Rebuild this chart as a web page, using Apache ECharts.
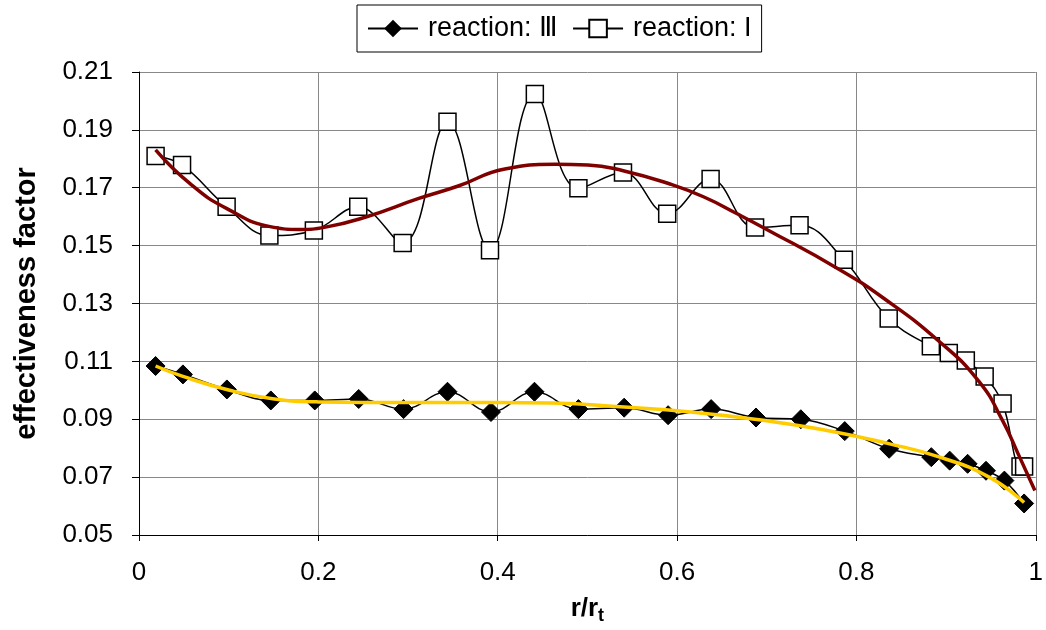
<!DOCTYPE html>
<html>
<head>
<meta charset="utf-8">
<script src="https://cdn.jsdelivr.net/npm/echarts@6/dist/echarts.min.js"></script>
<style>
html,body{margin:0;padding:0;background:#fff;}
#chart{width:1046px;height:630px;}
</style>
</head>
<body>
<div id="chart"></div>
<script>
// reaction I (hollow squares)
const rI = [0.0185,0.048,0.0977,0.1454,0.195,0.2445,0.294,0.344,0.3914,0.4414,0.490,0.5397,0.589,0.6374,0.687,0.7366,0.786,0.836,0.883,0.903,0.922,0.943,0.963,0.983,0.987];
const etaI = [0.181,0.1779,0.1634,0.1535,0.1552,0.1634,0.1509,0.1928,0.1484,0.2024,0.1698,0.1753,0.161,0.173,0.1563,0.157,0.1451,0.1248,0.1152,0.1129,0.1103,0.1048,0.0954,0.0737,0.0737];
// reaction III (filled diamonds)
const rIII = [0.0185,0.049,0.098,0.147,0.196,0.245,0.295,0.344,0.3925,0.441,0.490,0.541,0.590,0.638,0.688,0.738,0.787,0.8365,0.8835,0.904,0.924,0.9445,0.965,0.987];
const etaIII = [0.1084,0.1055,0.1003,0.0965,0.0965,0.097,0.0935,0.0995,0.0925,0.0995,0.0935,0.094,0.0914,0.0935,0.0906,0.09,0.0859,0.0798,0.0769,0.0757,0.0746,0.0722,0.0688,0.0609];
// trend line for reaction I (dark red)
const trendIx = [0.0185,0.0566,0.098,0.149,0.179,0.208,0.253,0.312,0.356,0.408,0.4636,0.5005,0.541,0.593,0.630,0.667,0.700,0.778,0.830,0.8927,0.937,0.963,0.981,0.999];
const trendIy = [0.1831,0.1715,0.1628,0.1564,0.1556,0.1564,0.1599,0.1663,0.1706,0.1765,0.1781,0.1779,0.1758,0.1712,0.1668,0.161,0.1556,0.1423,0.1319,0.1168,0.1029,0.0895,0.0776,0.0654];
// trend line for reaction III (yellow)
const trendIIIx = [0.0185,0.049,0.101,0.149,0.2,0.3,0.4,0.46,0.541,0.615,0.689,0.763,0.837,0.893,0.948,0.987];
const trendIIIy = [0.1084,0.1048,0.1,0.0971,0.096,0.0958,0.0958,0.0956,0.0942,0.0925,0.0899,0.0864,0.0815,0.0769,0.07,0.0612];
// axis ticks
const xTicks = {min:0, max:1, interval:0.2};
const yTicks = {min:0.05, max:0.21, interval:0.02};

const zip = (a,b) => a.map((v,i)=>[v,b[i]]);
const FONT = 'Liberation Sans, Arial, sans-serif';

const chart = echarts.init(document.getElementById('chart'));
chart.setOption({
  animation:false,
  backgroundColor:'#fff',
  textStyle:{fontFamily:FONT},
  legend:{
    data:['reaction: Ⅲ','reaction: I'],
    left:357, top:5,
    padding:[10,10,10,10],
    itemGap:14,
    itemWidth:50, itemHeight:22,
    borderColor:'#000', borderWidth:1, borderRadius:0,
    textStyle:{fontSize:27, color:'#000', fontFamily:FONT, padding:[0,0,0,5]}
  },
  grid:{left:139, right:6, top:72, bottom:90, containLabel:false},
  xAxis:{
    type:'value', min:xTicks.min, max:xTicks.max, interval:xTicks.interval,
    name:'{b|r/r}{s|t}', nameLocation:'middle', nameGap:58,
    nameTextStyle:{rich:{
      b:{fontSize:26, fontWeight:'bold', color:'#000', fontFamily:FONT},
      s:{fontSize:18, fontWeight:'bold', color:'#000', fontFamily:FONT, padding:[14,0,0,0]}
    }},
    axisLine:{lineStyle:{color:'#000', width:1}},
    axisTick:{show:true, inside:false, length:6, lineStyle:{color:'#000'}},
    axisLabel:{fontSize:26, color:'#000', margin:25, fontFamily:FONT,
      formatter:v=>String(Math.round(v*10)/10)},
    splitLine:{show:true, lineStyle:{color:'#888', width:1}}
  },
  yAxis:{
    type:'value', min:yTicks.min, max:yTicks.max, interval:yTicks.interval,
    name:'effectiveness factor', nameLocation:'middle', nameGap:98,
    nameTextStyle:{fontSize:29, fontWeight:'bold', color:'#000', fontFamily:FONT},
    axisLine:{show:true, lineStyle:{color:'#000', width:1}},
    axisTick:{show:true, inside:false, length:7, lineStyle:{color:'#000'}},
    axisLabel:{fontSize:26, color:'#000', margin:26, fontFamily:FONT,
      formatter:v=>v.toFixed(2)},
    splitLine:{show:true, lineStyle:{color:'#888', width:1}}
  },
  series:[
    {
      name:'reaction: Ⅲ', type:'line', data:zip(rIII,etaIII), smooth:0.4,
      symbol:'diamond', symbolSize:19,
      itemStyle:{color:'#000', borderColor:'#000'},
      lineStyle:{color:'#000', width:1.5}, z:2
    },
    {
      name:'reaction: I', type:'line', data:zip(rI,etaI), smooth:0.4,
      symbol:'rect', symbolSize:17,
      itemStyle:{color:'#fff', borderColor:'#000', borderWidth:1.5},
      lineStyle:{color:'#000', width:1.5}, z:2
    },
    {
      name:'trend I', type:'line', data:zip(trendIx,trendIy), smooth:0.5,
      symbol:'none', lineStyle:{color:'#800000', width:3.5}, z:4, silent:true
    },
    {
      name:'trend III', type:'line', data:zip(trendIIIx,trendIIIy), smooth:0.5,
      symbol:'none', lineStyle:{color:'#FFCC00', width:3.5}, z:4, silent:true
    }
  ]
});
</script>
</body>
</html>
